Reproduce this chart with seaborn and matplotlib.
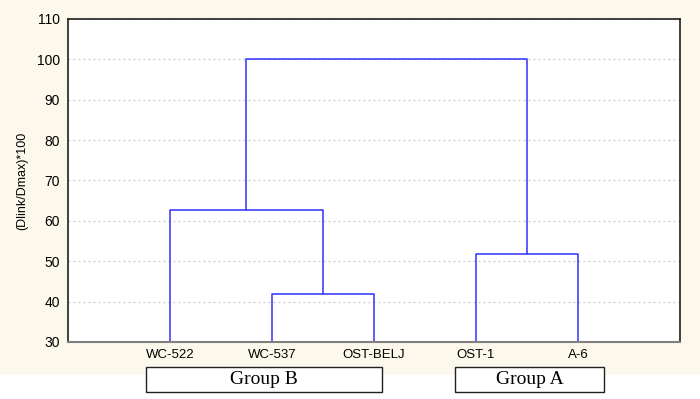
import matplotlib
matplotlib.use("Agg")
import matplotlib.pyplot as plt
import matplotlib.transforms as mtransforms
from matplotlib.patches import Rectangle
import pandas as pd
import seaborn as sns

# Leaves in dendrogram order
leaves = ['WC-522', 'WC-537', 'OST-BELJ', 'OST-1', 'A-6']

# Linkage steps: left node, right node, merge height (Dlink/Dmax*100)
# nodes 0-4 are leaves, 5+ are clusters created by the steps in order
link_left = [1, 3, 0, 6]
link_right = [2, 4, 5, 7]
link_height = [42.0, 51.7, 62.7, 100.0]

groups = ['Group B', 'Group A']

sns.set_theme(style="white")
plt.rcParams['font.family'] = ['Liberation Sans', 'DejaVu Sans']
plt.rcParams['text.color'] = 'black'
plt.rcParams['xtick.color'] = 'black'
plt.rcParams['ytick.color'] = 'black'
plt.rcParams['axes.labelcolor'] = 'black'

fig = plt.figure(figsize=(7, 3.99), dpi=100, facecolor='#FDF8EC')
fig.patches.append(Rectangle((0, 0), 1, 0.06, transform=fig.transFigure,
                             facecolor='white', edgecolor='none', zorder=0))
ax = fig.add_axes([0.0971, 0.1429, 0.8743, 0.8095])
ax.set_facecolor('white')

# node x / y positions
node_x = {i: i + 1 for i in range(len(leaves))}
node_y = {i: 30.0 for i in range(len(leaves))}
for k, (a, b, h) in enumerate(zip(link_left, link_right, link_height)):
    seg = pd.DataFrame({'x': [node_x[a], node_x[a], node_x[b], node_x[b]],
                        'y': [node_y[a], h, h, node_y[b]]})
    sns.lineplot(data=seg, x='x', y='y', sort=False, estimator=None,
                 color='#3030FF', linewidth=1.1, ax=ax)
    new = len(leaves) + k
    node_x[new] = (node_x[a] + node_x[b]) / 2
    node_y[new] = h

ax.set_xlim(0, len(leaves) + 1)
ax.set_ylim(30, 110)
ax.set_yticks(range(30, 111, 10))
ax.set_xticks(range(1, len(leaves) + 1))
ax.set_xticklabels(leaves, fontsize=9.5)
ax.tick_params(axis='y', labelsize=10, length=0, pad=6)
ax.tick_params(axis='x', length=0, pad=5)
ax.set_xlabel('')
ax.set_ylabel('(Dlink/Dmax)*100', fontsize=9, labelpad=6)
ax.yaxis.grid(True, linestyle=(0, (1.5, 2.5)), color='#C8C8C8', linewidth=0.9)
ax.set_axisbelow(True)
for side in ['left', 'top', 'right']:
    ax.spines[side].set_color('#202020')
    ax.spines[side].set_linewidth(1.2)
ax.spines['bottom'].set_color('#808080')
ax.spines['bottom'].set_linewidth(1.5)

# group boxes below the leaf labels
trans = mtransforms.blended_transform_factory(ax.transData, fig.transFigure)
box_spans = [(0.765, 3.08), (3.79, 5.26)]
y0, y1 = (399 - 392) / 399, (399 - 367) / 399
for name, (xa, xb) in zip(groups, box_spans):
    fig.patches.append(Rectangle((xa, y0), xb - xa, y1 - y0, transform=trans,
                                 facecolor='white', edgecolor='#202020', linewidth=1.0))
    fig.text((xa + xb) / 2, (y0 + y1) / 2, name, transform=trans,
             ha='center', va='center', fontsize=14, family='Liberation Serif')

fig.savefig('out.png', dpi=100, facecolor=fig.get_facecolor())
